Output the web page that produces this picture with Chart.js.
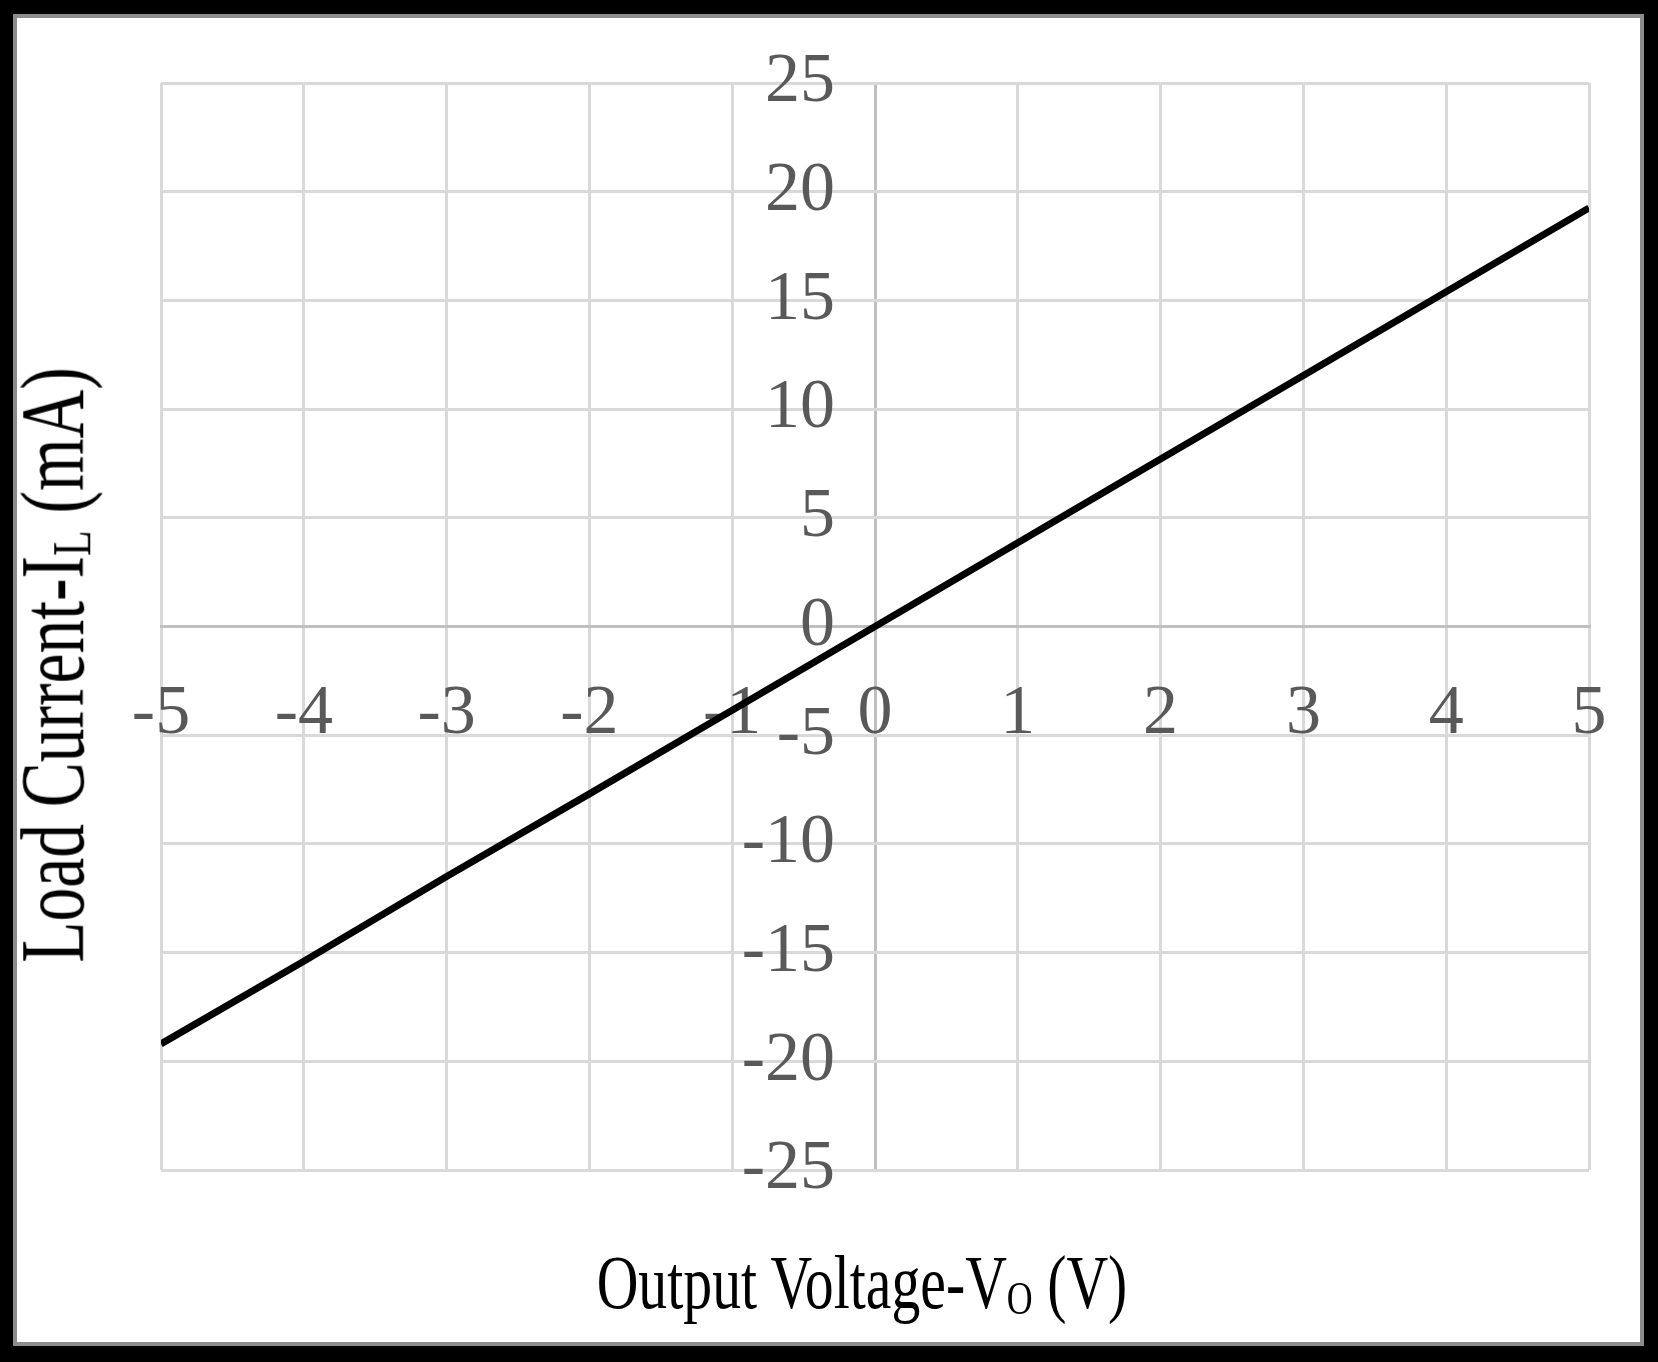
<!DOCTYPE html>
<html>
<head>
<meta charset="utf-8">
<script src="https://cdn.jsdelivr.net/npm/chart.js@4.4.1/dist/chart.umd.min.js"></script>
<style>
    html, body { margin: 0; padding: 0; background: #000; }
    #frame {
        position: absolute; left: 13px; top: 14px;
        width: 1623px; height: 1324px;
        border: 4px solid #8c8c8c; background: #fff;
    }
    #chart { position: absolute; left: 0; top: 0; }
    .axis-title {
        position: absolute; font-family: "Liberation Serif", serif;
        color: #000; white-space: nowrap; line-height: 1;
    }
    .axis-title sub { font-size: 0.62em; vertical-align: -0.12em; }
    #xTitle { font-size: 76px; left: 862px; top: 1283px; transform: translate(-50%, -50%) scaleX(0.76); }
    #yTitle { font-size: 90px; left: 54px; top: 665px; transform: translate(-50%, -50%) rotate(-90deg) scaleX(0.75); }
</style>
</head>
<body>
<div id="frame"></div>
<canvas id="chart" width="1658" height="1362"></canvas>
<div class="axis-title" id="xTitle">Output Voltage-V<sub>O</sub> (V)</div>
<div class="axis-title" id="yTitle">Load Current-I<sub>L</sub> (mA)</div>
<script>
    // Output voltage (V) and load current (mA)
    const voltage = [-5, -4, -3, -2, -1, 0, 1, 2, 3, 4, 5];
    const current = [-19.2, -15.4, -11.5, -7.7, -3.85, 0, 3.85, 7.7, 11.55, 15.4, 19.25];

    const xRange = { min: -5, max: 5, step: 1 };
    const yRange = { min: -25, max: 25, step: 5 };

    const tickFont = { family: '"Liberation Serif", serif', size: 70 };
    const tickColor = '#595959';
    const gridColor = '#d9d9d9';
    const axisColor = '#bfbfbf';

    const points = voltage.map((v, i) => ({ x: v, y: current[i] }));

    const ctx = document.getElementById('chart').getContext('2d');
    new Chart(ctx, {
        type: 'scatter',
        data: {
            datasets: [{
                data: points,
                showLine: true,
                borderColor: '#000',
                borderWidth: 7,
                pointRadius: 0,
                fill: false,
                tension: 0,
            }],
        },
        options: {
            responsive: false,
            animation: false,
            devicePixelRatio: 1,
            layout: { padding: { left: 161, top: 83, right: 69, bottom: 192 } },
            plugins: {
                legend: { display: false },
                tooltip: { enabled: false },
            },
            scales: {
                x: {
                    type: 'linear',
                    position: { y: 0 },
                    min: xRange.min,
                    max: xRange.max,
                    ticks: {
                        stepSize: xRange.step,
                        font: tickFont,
                        color: tickColor,
                        padding: 46,
                        maxRotation: 0,
                    },
                    grid: {
                        // the x = 0 line doubles as the vertical axis
                        color: c => (c.tick && c.tick.value === 0 ? axisColor : gridColor),
                        lineWidth: 3,
                        drawTicks: false,
                    },
                    border: { color: axisColor, width: 3 },
                },
                y: {
                    type: 'linear',
                    // labels sit just left of the x = 0 line
                    position: { x: -0.28 },
                    min: yRange.min,
                    max: yRange.max,
                    ticks: {
                        stepSize: yRange.step,
                        font: tickFont,
                        color: tickColor,
                    },
                    grid: { color: gridColor, lineWidth: 3, drawTicks: false },
                    border: { display: false },
                },
            },
        },
    });
</script>
</body>
</html>
